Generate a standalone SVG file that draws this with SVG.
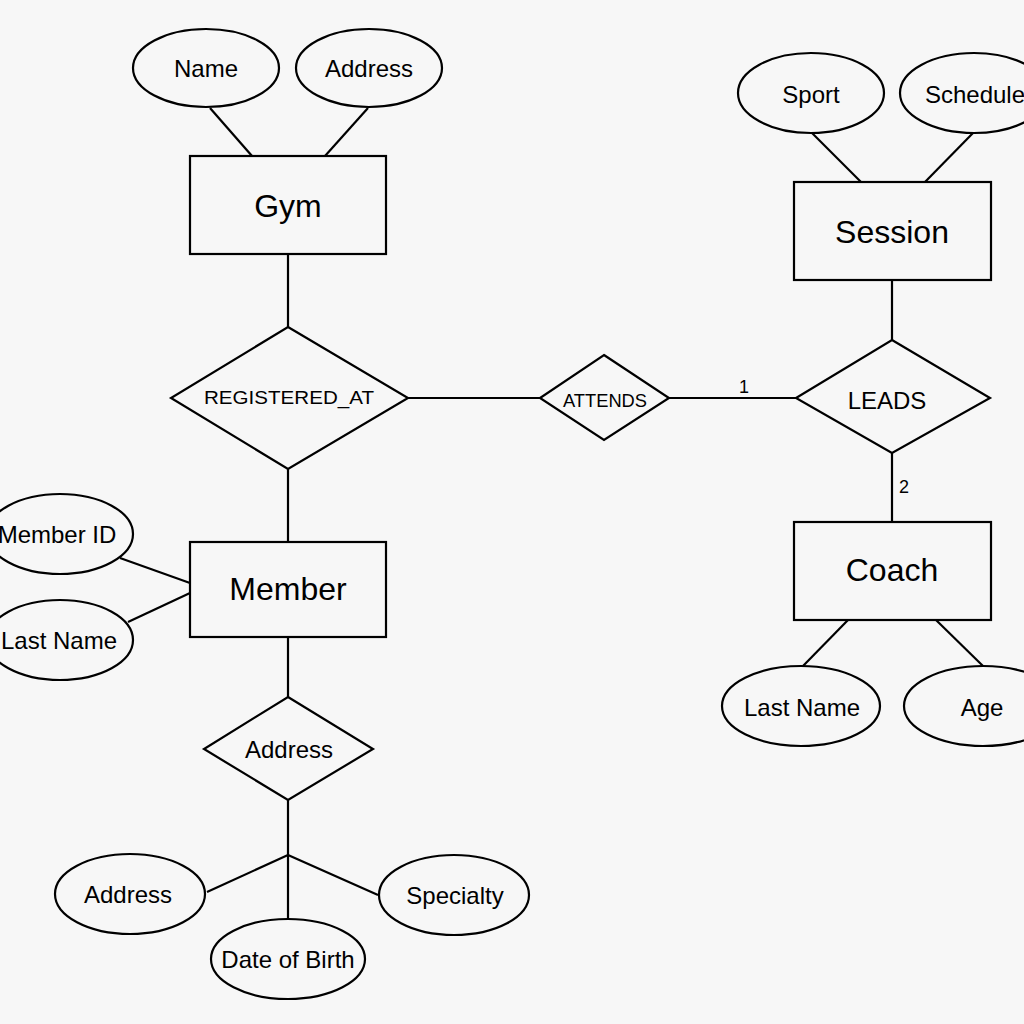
<svg xmlns="http://www.w3.org/2000/svg" width="1024" height="1024" viewBox="0 0 1024 1024">
<style>
.s{fill:none;stroke:#000;stroke-width:2.2}
.f{fill:#f7f7f7;stroke:#000;stroke-width:2.2}
text{font-family:"Liberation Sans",Arial,sans-serif;fill:#000;text-anchor:middle;dominant-baseline:central}
.e{font-size:32px}
.a{font-size:24px}
</style>
<rect width="1024" height="1024" fill="#f7f7f7"/>
<g id="connectors" class="s">
<line x1="210" y1="108" x2="252" y2="156"/>
<line x1="368" y1="108" x2="325" y2="156"/>
<line x1="288" y1="254" x2="288" y2="327"/>
<line x1="288" y1="469" x2="288" y2="542"/>
<line x1="408" y1="398" x2="540" y2="398"/>
<line x1="669" y1="398" x2="796" y2="398"/>
<line x1="892" y1="280" x2="892" y2="340"/>
<line x1="892" y1="453" x2="892" y2="522"/>
<line x1="812" y1="133" x2="861" y2="182"/>
<line x1="973" y1="133" x2="925" y2="182"/>
<line x1="848" y1="620" x2="803" y2="666"/>
<line x1="936" y1="620" x2="983" y2="666"/>
<line x1="120" y1="558" x2="190" y2="583"/>
<line x1="128" y1="622" x2="190" y2="593"/>
<line x1="288" y1="637" x2="288" y2="697"/>
<line x1="288" y1="800" x2="288" y2="919"/>
<line x1="288" y1="855" x2="207" y2="892"/>
<line x1="288" y1="855" x2="378" y2="895"/>
</g>
<g id="labels">
<text x="744" y="387" style="font-size:18px">1</text>
<text x="904" y="487" style="font-size:18px">2</text>
</g>
<g id="gym"><rect class="f" x="190" y="156" width="196" height="98"/><text class="e" x="288" y="206">Gym</text></g>
<g id="gym-name"><ellipse class="f" cx="206" cy="68" rx="73" ry="39"/><text class="a" x="206" y="68">Name</text></g>
<g id="gym-address"><ellipse class="f" cx="369" cy="68" rx="73" ry="39"/><text class="a" x="369" y="68">Address</text></g>
<g id="registered-at"><polygon class="f" points="288,327 408,398 288,469 171,398"/><text x="289" y="397" style="font-size:19px" textLength="170" lengthAdjust="spacingAndGlyphs">REGISTERED_AT</text></g>
<g id="attends"><polygon class="f" points="604,355 669,398 604,440 540,398"/><text x="605" y="400" style="font-size:19px" textLength="84" lengthAdjust="spacingAndGlyphs">ATTENDS</text></g>
<g id="leads"><polygon class="f" points="892,340 990,398 892,453 796,398"/><text x="887" y="400" style="font-size:24px">LEADS</text></g>
<g id="session"><rect class="f" x="794" y="182" width="197" height="98"/><text class="e" x="892" y="232">Session</text></g>
<g id="sport"><ellipse class="f" cx="811" cy="93" rx="73" ry="40"/><text class="a" x="811" y="94">Sport</text></g>
<g id="schedule"><ellipse class="f" cx="974" cy="93" rx="74" ry="40"/><text class="a" x="975" y="94">Schedule</text></g>
<g id="coach"><rect class="f" x="794" y="522" width="197" height="98"/><text class="e" x="892" y="570">Coach</text></g>
<g id="coach-lastname"><ellipse class="f" cx="801" cy="706" rx="79" ry="40"/><text class="a" x="802" y="707">Last Name</text></g>
<g id="coach-age"><ellipse class="f" cx="983" cy="706" rx="79" ry="40"/><text class="a" x="982" y="707">Age</text></g>
<g id="member"><rect class="f" x="190" y="542" width="196" height="95"/><text class="e" x="288" y="589">Member</text></g>
<g id="member-id"><ellipse class="f" cx="60" cy="534" rx="73" ry="40"/><text class="a" x="57" y="534">Member ID</text></g>
<g id="member-lastname"><ellipse class="f" cx="60" cy="640" rx="73" ry="40"/><text class="a" x="59" y="640">Last Name</text></g>
<g id="address-rel"><polygon class="f" points="288,697 373,749 288,800 204,749"/><text class="a" x="289" y="749">Address</text></g>
<g id="address-attr"><ellipse class="f" cx="130" cy="894" rx="75" ry="40"/><text class="a" x="128" y="894">Address</text></g>
<g id="dob"><ellipse class="f" cx="288" cy="959" rx="77" ry="40"/><text class="a" x="288" y="959">Date of Birth</text></g>
<g id="specialty"><ellipse class="f" cx="454" cy="895" rx="75" ry="40"/><text class="a" x="455" y="895">Specialty</text></g>
</svg>
